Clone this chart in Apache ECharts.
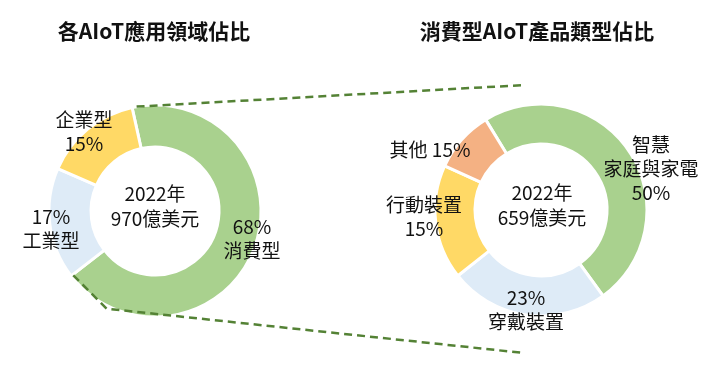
<!DOCTYPE html>
<html>
<head>
<meta charset="utf-8">
<script src="https://cdn.jsdelivr.net/npm/echarts@6/dist/echarts.min.js"></script>
<style>html,body{margin:0;padding:0;background:#fff}#c{width:722px;height:373px}</style>
</head>
<body>
<div id="c"></div>
<script>
// ---- data ----
const leftTitle = '各AIoT應用領域佔比';
const rightTitle = '消費型AIoT產品類型佔比';
const leftCenterText = ['2022年', '970億美元'];
const rightCenterText = ['2022年', '659億美元'];
const leftNames = ['消費型', '工業型', '企業型'];
const leftValues = [68, 17, 15];
const leftLabels = ['68%\n消費型', '17%\n工業型', '企業型\n15%'];
const rightNames = ['智慧家庭與家電', '穿戴裝置', '行動裝置', '其他'];
const rightValues = [48.8, 24.3, 17.5, 9.4];
const rightLabels = ['智慧\n家庭與家電\n50%', '23%\n穿戴裝置', '行動裝置\n15%', '其他 15%'];

// ---- layout / style ----
const FONT = '"Noto Sans CJK TC", "Noto Sans", sans-serif';
const leftCenter = [155, 211], rightCenter = [541, 210];
const leftRadius = [64, 106], rightRadius = [66, 106];
const leftStart = 102.5, rightStart = 121.5;
const leftColors = ['#A9D18E', '#DEEBF7', '#FFD966'];
const rightColors = ['#A9D18E', '#DEEBF7', '#FFD966', '#F4B183'];
const leftLabelPos = [[252, 239], [51, 229], [84, 132]];
const rightLabelPos = [[651, 169], [526, 310], [424, 217], [430, 150]];

function pie(center, radius, start, names, values, colors, labels, pos) {
  return {
    type: 'pie', center: center, radius: radius, startAngle: start,
    clockwise: true, silent: true, animation: false,
    itemStyle: { borderColor: '#fff', borderWidth: 3 },
    label: {
      show: true, position: 'inside', color: '#111', fontSize: 19,
      fontFamily: FONT, lineHeight: 24, align: 'center',
      formatter: p => labels[p.dataIndex]
    },
    labelLine: { show: false },
    labelLayout: p => ({ x: pos[p.dataIndex][0], y: pos[p.dataIndex][1], align: 'center', verticalAlign: 'middle' }),
    data: names.map((n, i) => ({ name: n, value: values[i], itemStyle: { color: colors[i] } }))
  };
}

function polar(c, r, deg) {
  const a = deg * Math.PI / 180;
  return [c[0] + r * Math.cos(a), c[1] - r * Math.sin(a)];
}

// connector lines from the left pie's 消費型 slice to the right pie
const greenEnd = leftStart - leftValues[0] / leftValues.reduce((a, b) => a + b, 0) * 360;
const upperStart = polar(leftCenter, leftRadius[1], leftStart - 2.5);
const lowerStart = polar(leftCenter, leftRadius[1] - 2, greenEnd + 0.5);
const lowerBend = polar(leftCenter, leftRadius[1] + 3, greenEnd + 26);
const upperEnd = [rightCenter[0] - 16, rightCenter[1] - 125];
const lowerEnd = [rightCenter[0] - 17, rightCenter[1] + 143];

const lineStyle = { stroke: '#548235', lineWidth: 2.5, lineDash: [8, 5], fill: null };

function centerText(c, lines) {
  return lines.map((t, i) => ({
    type: 'text', x: c[0], y: c[1] - 12 + i * 25,
    style: { text: t, font: '19px ' + FONT, fill: '#111', textAlign: 'center', textVerticalAlign: 'middle' },
    silent: true
  }));
}

const chart = echarts.init(document.getElementById('c'), null, { renderer: 'canvas' });
chart.setOption({
  animation: false,
  backgroundColor: '#fff',
  series: [
    pie(leftCenter, leftRadius, leftStart, leftNames, leftValues, leftColors, leftLabels, leftLabelPos),
    pie(rightCenter, rightRadius, rightStart, rightNames, rightValues, rightColors, rightLabels, rightLabelPos)
  ],
  graphic: [
    { type: 'text', x: 154, y: 31, style: { text: leftTitle, font: 'bold 21px ' + FONT, fill: '#111', textAlign: 'center', textVerticalAlign: 'middle' }, silent: true },
    { type: 'text', x: 537, y: 31, style: { text: rightTitle, font: 'bold 21px ' + FONT, fill: '#111', textAlign: 'center', textVerticalAlign: 'middle' }, silent: true },
    ...centerText([leftCenter[0], 206], leftCenterText),
    ...centerText([rightCenter[0] + 1, 205], rightCenterText),
    { type: 'polyline', shape: { points: [upperStart, upperEnd] }, style: lineStyle, silent: true, z: 10 },
    { type: 'polyline', shape: { points: [lowerStart, lowerBend, lowerEnd] }, style: lineStyle, silent: true, z: 10 }
  ]
});
</script>
</body>
</html>
